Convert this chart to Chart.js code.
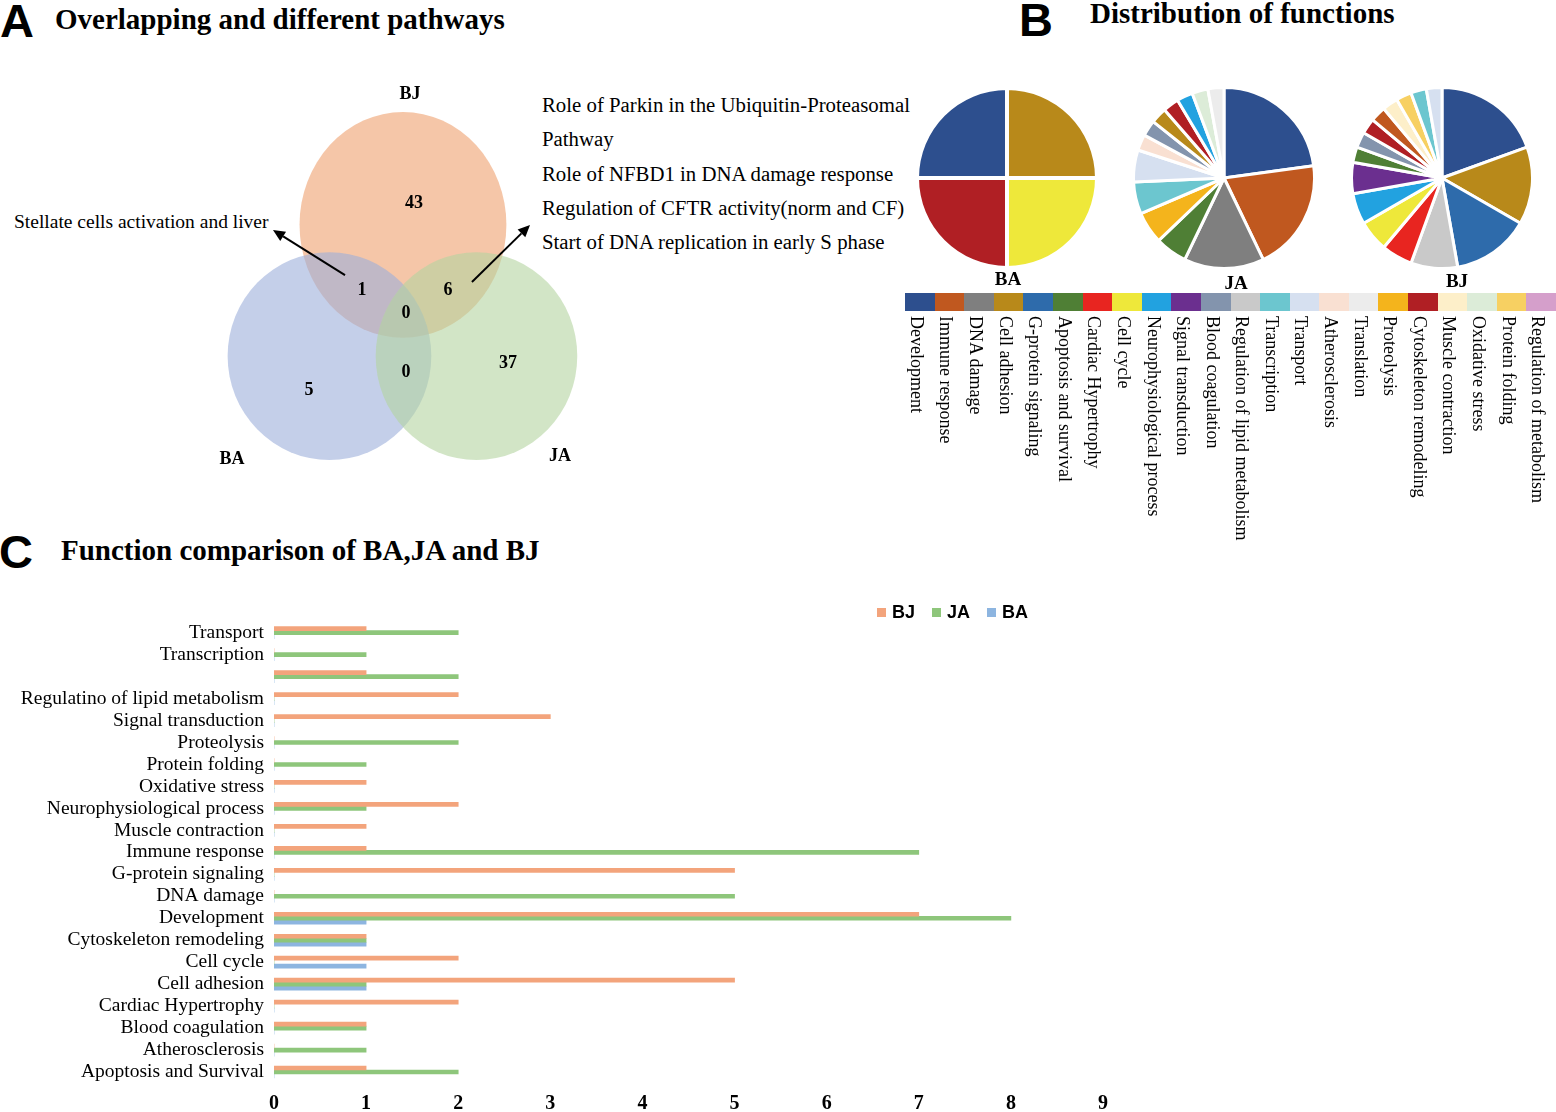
<!DOCTYPE html>
<html><head><meta charset="utf-8">
<script src="https://cdn.jsdelivr.net/npm/chart.js@4.4.1/dist/chart.umd.min.js"></script>
<style>
html,body{margin:0;padding:0;background:#fff;}
#page{position:relative;width:1556px;height:1112px;overflow:hidden;font-family:"Liberation Serif","Times New Roman",serif;color:#000;}
.abs{position:absolute;white-space:nowrap;line-height:1;}
.panel{font-family:"Liberation Sans",Arial,sans-serif;font-weight:bold;font-size:47px;}
.title{font-weight:bold;font-size:29px;}
.note{font-size:20.8px;}
.pielab{font-weight:bold;font-size:19px;transform:translateX(-50%);}
.leglab{font-size:18px;writing-mode:vertical-rl;line-height:18px;width:18px;}
.barleg{font-family:"Liberation Sans",Arial,sans-serif;font-weight:bold;font-size:18px;}
canvas{position:absolute;}
</style></head>
<body><div id="page">
<div class="abs panel" style="left:0;top:-3px;">A</div>
<div class="abs title" style="left:55px;top:5px;">Overlapping and different pathways</div>
<div class="abs panel" style="left:1019px;top:-4px;">B</div>
<div class="abs title" style="left:1090px;top:-1px;">Distribution of functions</div>
<div class="abs panel" style="left:-1px;top:528px;">C</div>
<div class="abs title" style="left:61px;top:536px;">Function comparison of BA,JA and BJ</div>

<div class="abs note" style="left:14px;top:212px;font-size:19.5px;">Stellate cells activation and liver</div>
<div class="abs note" style="left:542px;top:95px;">Role of Parkin in the Ubiquitin-Proteasomal</div>
<div class="abs note" style="left:542px;top:129px;">Pathway</div>
<div class="abs note" style="left:542px;top:164px;">Role of NFBD1 in DNA damage response</div>
<div class="abs note" style="left:542px;top:198px;">Regulation of CFTR activity(norm and CF)</div>
<div class="abs note" style="left:542px;top:232px;">Start of DNA replication in early S phase</div>

<canvas id="venn" width="420" height="420" style="left:200px;top:60px;width:420px;height:420px;"></canvas>

<canvas id="pieBA" width="184" height="184" style="left:915px;top:86px;width:184px;height:184px;"></canvas>
<canvas id="pieJA" width="184" height="184" style="left:1132px;top:86px;width:184px;height:184px;"></canvas>
<canvas id="pieBJ" width="184" height="184" style="left:1350px;top:86px;width:184px;height:184px;"></canvas>
<div class="abs pielab" style="left:1008px;top:269px;">BA</div>
<div class="abs pielab" style="left:1236px;top:273px;">JA</div>
<div class="abs pielab" style="left:1457px;top:271px;">BJ</div>
<div id="pieLegend"></div>

<canvas id="bar" width="1120" height="512" style="left:0;top:600px;width:1120px;height:512px;"></canvas>
<div id="barLegend"></div>
</div>
<script>
// ---------- Panel A: Venn ----------
const vennSets = ['BJ', 'BA', 'JA'];
const vennCenterX = [0.00, -0.70, 0.70];
const vennCenterY = [0.83, -0.42, -0.42];
const vennRadiusX = [0.985, 0.97, 0.96];
const vennRadiusY = [1.075, 0.99, 0.99];
const vennColors = ['rgba(238,160,110,0.6)', 'rgba(157,175,218,0.6)', 'rgba(180,212,160,0.6)'];
const vennSetLabelX = [0.067, -1.629, 1.495];
const vennSetLabelY = [2.076, -1.400, -1.371];
const vennRegionCounts = [43, 5, 37, 1, 6, 0, 0];
const vennRegionX = [0.105, -0.895, 1.000, -0.390, 0.429, 0.029, 0.029];
const vennRegionY = [1.038, -0.743, -0.486, 0.210, 0.210, -0.010, -0.571];
const arrowFromX = [-0.552, 0.657];
const arrowFromY = [0.352, 0.286];
const arrowToX = [-1.238, 1.210];
const arrowToY = [0.781, 0.829];

// ---------- Panel B: pies ----------
const functionNames = ['Development','Immune response','DNA damage','Cell adhesion','G-protein signaling','Apoptosis and survival','Cardiac Hypertrophy','Cell cycle','Neurophysiological process','Signal transduction','Blood coagulation','Regulation of lipid metabolism','Transcription','Transport','Atherosclerosis','Translation','Proteolysis','Cytoskeleton remodeling','Muscle contraction','Oxidative stress','Protein folding','Regulation of metabolism'];
const functionColors = ['#2d4f8e','#c0581f','#7f7f7f','#b8891a','#2e6bab','#4f7f35','#e82520','#eee83a','#22a2e0','#6b2f8f','#8394ad','#c9c9c9','#6cc6cf','#d6e0f0','#f9e0d2','#ececec','#f4b41c','#b01f24','#fdefc9','#dcecd8','#f7d062','#d59fcb'];
const pieBALabels = ['Development','Cell adhesion','Cell cycle','Cytoskeleton remodeling'];
const pieBAValues = [1, 1, 1, 1];
const pieJALabels = ['Development','Immune response','DNA damage','Apoptosis and survival','Proteolysis','Transcription','Transport','Atherosclerosis','Blood coagulation','Cell adhesion','Cytoskeleton remodeling','Neurophysiological process','Oxidative stress','Translation'];
const pieJAValues = [8, 7, 5, 2, 2, 2, 2, 1, 1, 1, 1, 1, 1, 1];
const pieBJLabels = ['Development','Cell adhesion','G-protein signaling','Regulation of lipid metabolism','Cardiac Hypertrophy','Cell cycle','Neurophysiological process','Signal transduction','Apoptosis and survival','Blood coagulation','Cytoskeleton remodeling','Immune response','Muscle contraction','Protein folding','Transcription','Transport'];
const pieBJValues = [7, 5, 5, 3, 2, 2, 2, 2, 1, 1, 1, 1, 1, 1, 1, 1];

// ---------- Panel C: bars ----------
const barCategories = ['Transport','Transcription','','Regulatino of lipid metabolism','Signal transduction','Proteolysis','Protein folding','Oxidative stress','Neurophysiological process','Muscle contraction','Immune response','G-protein signaling','DNA damage','Development','Cytoskeleton remodeling','Cell cycle','Cell adhesion','Cardiac Hypertrophy','Blood coagulation','Atherosclerosis','Apoptosis and Survival'];
const barSeriesNames = ['BJ', 'JA', 'BA'];
const barBJ = [1, 0, 1, 2, 3, 0, 0, 1, 2, 1, 1, 5, 0, 7, 1, 2, 5, 2, 1, 0, 1];
const barJA = [2, 1, 2, 0, 0, 2, 1, 0, 1, 0, 7, 0, 5, 8, 1, 0, 1, 0, 1, 1, 2];
const barBA = [0, 0, 0, 0, 0, 0, 0, 0, 0, 0, 0, 0, 0, 1, 1, 1, 1, 0, 0, 0, 0];
const barColors = ['#f3a47c', '#8ec67b', '#8db5e0'];
const xTickLabels = ['0','1','2','3','4','5','6','7','8','9'];

const SERIF = '"Liberation Serif","Times New Roman",serif';

// Venn
const vennPlugin = {
  id: 'vennDraw',
  beforeDatasetsDraw(chart) {
    const {ctx} = chart; const x = chart.scales.x, y = chart.scales.y;
    ctx.save();
    vennSets.forEach((s, i) => {
      const cx = x.getPixelForValue(vennCenterX[i]), cy = y.getPixelForValue(vennCenterY[i]);
      const rx = Math.abs(x.getPixelForValue(vennCenterX[i] + vennRadiusX[i]) - cx);
      const ry = Math.abs(y.getPixelForValue(vennCenterY[i] + vennRadiusY[i]) - cy);
      ctx.beginPath(); ctx.ellipse(cx, cy, rx, ry, 0, 0, Math.PI * 2);
      ctx.fillStyle = vennColors[i]; ctx.fill();
    });
    ctx.restore();
  },
  afterDatasetsDraw(chart) {
    const {ctx} = chart; const x = chart.scales.x, y = chart.scales.y;
    ctx.save();
    ctx.fillStyle = '#000'; ctx.textAlign = 'center'; ctx.textBaseline = 'middle';
    ctx.font = 'bold 18px ' + SERIF;
    vennSets.forEach((s, i) => ctx.fillText(s, x.getPixelForValue(vennSetLabelX[i]), y.getPixelForValue(vennSetLabelY[i])));
    vennRegionCounts.forEach((n, i) => ctx.fillText(String(n), x.getPixelForValue(vennRegionX[i]), y.getPixelForValue(vennRegionY[i])));
    ctx.strokeStyle = '#000'; ctx.lineWidth = 2;
    arrowFromX.forEach((v, i) => {
      const fx = x.getPixelForValue(arrowFromX[i]), fy = y.getPixelForValue(arrowFromY[i]);
      const tx = x.getPixelForValue(arrowToX[i]), ty = y.getPixelForValue(arrowToY[i]);
      const a = Math.atan2(ty - fy, tx - fx), L = 12, W = 5.5;
      const bx = tx - L * Math.cos(a), by = ty - L * Math.sin(a);
      ctx.beginPath(); ctx.moveTo(fx, fy); ctx.lineTo(bx, by); ctx.stroke();
      ctx.beginPath(); ctx.moveTo(tx, ty);
      ctx.lineTo(bx + W * Math.sin(a), by - W * Math.cos(a));
      ctx.lineTo(bx - W * Math.sin(a), by + W * Math.cos(a));
      ctx.closePath(); ctx.fill();
    });
    ctx.restore();
  }
};
new Chart(document.getElementById('venn'), {
  type: 'scatter',
  data: { datasets: [{ data: vennSets.map((s, i) => ({x: vennCenterX[i], y: vennCenterY[i]})), pointRadius: 0 }] },
  options: {
    responsive: false, animation: false, layout: {padding: 0},
    plugins: {legend: {display: false}, tooltip: {enabled: false}},
    scales: { x: {display: false, min: -1.933, max: 2.067}, y: {display: false, min: -1.6, max: 2.4} }
  },
  plugins: [vennPlugin]
});

// Pies
function makePie(id, labels, values, rotation, bw) {
  new Chart(document.getElementById(id), {
    type: 'pie',
    data: { labels: labels, datasets: [{ data: values,
      backgroundColor: labels.map(l => functionColors[functionNames.indexOf(l)]),
      borderColor: '#ffffff', borderWidth: bw }] },
    options: { responsive: false, animation: false, rotation: rotation, layout: {padding: 0},
      plugins: {legend: {display: false}, tooltip: {enabled: false}} }
  });
}
makePie('pieBA', pieBALabels, pieBAValues, -90, 4);
makePie('pieJA', pieJALabels, pieJAValues, 0, 3);
makePie('pieBJ', pieBJLabels, pieBJValues, 0, 3);

// Pie legend (HTML row of swatches with vertical labels)
(function () {
  const host = document.getElementById('pieLegend');
  const x0 = 905, w = (1556 - 905) / functionNames.length;
  functionNames.forEach((n, i) => {
    const sw = document.createElement('div');
    sw.className = 'abs';
    sw.style.cssText = `left:${x0 + i * w}px;top:293px;width:${w + 0.5}px;height:18px;background:${functionColors[i]};`;
    host.appendChild(sw);
    const lb = document.createElement('div');
    lb.className = 'abs leglab';
    lb.textContent = n;
    lb.style.left = (x0 + i * w + w / 2 - 12) + 'px';
    lb.style.top = '316px';
    host.appendChild(lb);
  });
})();

// Bars
new Chart(document.getElementById('bar'), {
  type: 'bar',
  data: { labels: barCategories, datasets: [
    {label: barSeriesNames[0], data: barBJ, backgroundColor: barColors[0], barThickness: 4},
    {label: barSeriesNames[1], data: barJA, backgroundColor: barColors[1], barThickness: 4},
    {label: barSeriesNames[2], data: barBA, backgroundColor: barColors[2], barThickness: 4}
  ]},
  options: {
    indexAxis: 'y', responsive: false, animation: false,
    layout: {padding: {top: 20, right: 17, left: 0, bottom: 0}},
    plugins: {legend: {display: false}, tooltip: {enabled: false}},
    scales: {
      x: { min: 0, max: 9,
        ticks: { stepSize: 1, color: '#000', maxRotation: 0, padding: 9,
          font: {family: SERIF, size: 20, weight: 'bold'},
          callback: (v, i) => xTickLabels[i] },
        grid: {display: false, drawTicks: false}, border: {display: false},
        afterFit: s => { s.height = 29; } },
      y: { ticks: { color: '#000', padding: 10, autoSkip: false, font: {family: SERIF, size: 19.5} },
        grid: {display: false, drawTicks: false}, border: {display: false},
        afterFit: s => { s.width = 274; } }
    }
  }
});

// Bar legend
(function () {
  const host = document.getElementById('barLegend');
  const sx = [877, 932, 987];
  barSeriesNames.forEach((n, i) => {
    const sq = document.createElement('div');
    sq.className = 'abs';
    sq.style.cssText = `left:${sx[i]}px;top:608px;width:9px;height:9px;background:${barColors[i]};`;
    host.appendChild(sq);
    const t = document.createElement('div');
    t.className = 'abs barleg';
    t.textContent = n;
    t.style.left = (sx[i] + 15) + 'px';
    t.style.top = '603px';
    host.appendChild(t);
  });
})();
</script>
</body></html>
